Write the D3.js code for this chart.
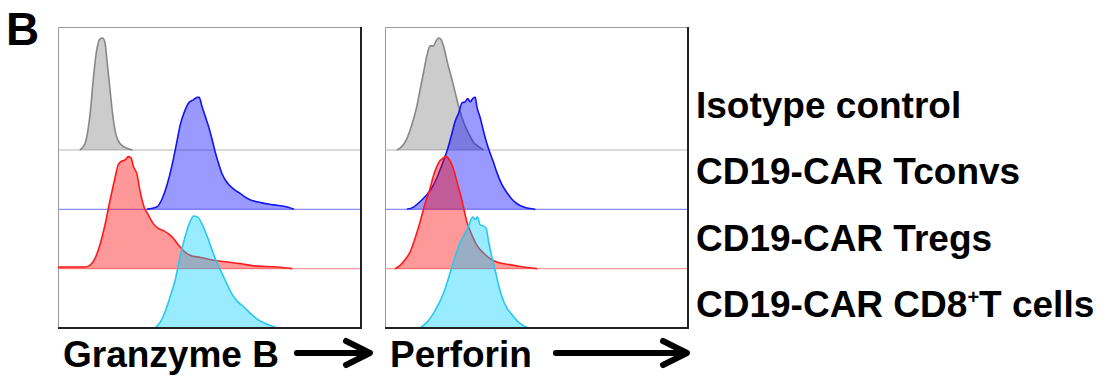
<!DOCTYPE html>
<html>
<head>
<meta charset="utf-8">
<script src="https://cdn.jsdelivr.net/npm/d3@7"></script>
<style>
  html, body { margin: 0; padding: 0; background: #fff; }
  text { font-family: "Liberation Sans", Arial, Helvetica, sans-serif; font-weight: bold; fill: #000; }
</style>
</head>
<body>
<div id="chart"></div>
<script>
// rows, top to bottom
const rowLabels = ['Isotype control', 'CD19-CAR Tconvs', 'CD19-CAR Tregs', 'CD19-CAR CD8+T cells'];
const markerLabels = ['Granzyme B', 'Perforin'];

// histograms: [position on axis (0-100), % of mode]
const gzbIsotype = [[7.2,0],[8.8,5],[9.9,18],[10.7,35],[11.6,62],[12.7,88],[13.8,99],[14.7,100],[15.5,96],[16.2,79],[17.1,56],[17.9,35],[18.8,18],[20.4,6],[22.7,1.5],[24.6,0]];
const gzbTconv = [[29.3,0],[32.6,2],[34.3,9],[35.9,21],[37.6,39],[39.2,60],[40.3,75],[42.0,89],[43.1,95],[44.8,98],[45.9,100],[46.6,100],[47.5,92],[48.6,83],[49.7,74],[50.8,63],[51.9,51],[53.0,41],[54.1,32],[55.8,24],[58.0,18],[60.2,14],[63.0,9],[66.9,6],[71.3,4],[75.7,2],[77.9,0]];
const gzbTreg = [[0,1.5],[8.8,1.5],[10.5,3],[12.2,9],[13.8,21],[15.5,39],[17.1,60],[18.8,81],[19.9,93],[21.0,96],[22.1,97],[23.2,100],[24.1,99],[24.9,91],[26.0,85],[27.1,69],[28.4,55],[29.8,48],[31.5,40],[33.1,36],[34.8,34],[36.5,31],[38.1,27],[39.8,21],[41.4,16],[43.6,12],[47.0,10],[51.4,7.5],[55.8,6],[60.2,4.5],[64.6,2.5],[72.4,1.5],[77.3,0]];
const gzbCD8 = [[32.0,0],[33.7,5],[35.4,15],[37.0,28],[38.7,43],[40.3,64],[42.0,82],[43.6,95],[44.8,100],[46.1,99],[47.5,93],[49.2,82],[50.8,70],[52.5,58],[54.1,49],[55.8,39],[57.5,30],[59.1,24],[61.3,19],[63.5,13],[65.7,8],[68.5,4],[72.4,0]];

const prfIsotype = [[3.9,0],[5.5,3],[7.2,10],[8.8,22],[10.5,39],[11.6,54],[12.7,69],[13.8,84],[14.9,93],[16.0,93],[16.8,97],[17.6,100],[18.4,99],[19.3,93],[20.6,78],[22.1,63],[23.2,51],[24.3,39],[25.9,25],[27.6,15],[29.2,7],[30.9,3],[32.5,0]];
const prfTconv = [[7.2,0],[9.4,2],[11.6,7],[13.8,13],[15.4,19],[17.1,28],[18.7,39],[19.8,47],[20.9,56],[22.1,68],[23.2,79],[24.3,86],[25.4,95],[26.5,96],[27.3,99],[28.1,96],[29.0,99],[29.8,100],[30.3,92],[31.4,82],[32.5,70],[33.6,59],[34.7,50],[35.8,42],[36.9,33],[38.6,22],[40.2,15],[41.9,9],[43.6,5],[45.8,2],[49.6,0]];
const prfTreg = [[3.3,0],[5.0,3],[6.6,8],[8.3,15],[9.9,27],[11.6,42],[13.2,58],[14.7,70],[16.0,83],[17.6,94],[19.3,99],[20.2,100],[21.3,97],[22.6,89],[23.9,76],[25.4,61],[27.0,42],[28.7,30],[30.3,21],[32.5,14],[34.7,9],[36.9,6],[40.2,4],[44.7,2],[50.2,0]];
const prfCD8 = [[11.6,0],[13.8,5],[16.0,13],[17.6,21],[19.3,31],[20.9,44],[22.6,59],[24.3,73],[25.9,82],[27.3,89],[28.1,95],[29.0,99],[29.8,97],[30.5,99],[31.4,92],[32.5,91],[33.4,89],[34.2,77],[35.3,63],[36.5,50],[37.6,37],[38.7,27],[40.2,18],[41.9,12],[44.1,5],[47.4,0]];

const panels = [
  { label: markerLabels[0], series: [gzbIsotype, gzbTconv, gzbTreg, gzbCD8], left: 58, right: 361, arrowGap: 18, arrowEnd: 370 },
  { label: markerLabels[1], series: [prfIsotype, prfTconv, prfTreg, prfCD8], left: 385, right: 688, arrowGap: 24, arrowEnd: 687 }
];

const colors = [
  { fill: '#808080', line: '#888888', base: '#b8b8b8' },
  { fill: '#0000ff', line: '#1414f0', base: '#8c8cff' },
  { fill: '#ff0000', line: '#ff1a1a', base: '#ff9a9a' },
  { fill: '#00ccff', line: '#28c8f0', base: '#28c8f0' }
];

const width = 1106, height = 378;
const frameTop = 27, frameBottom = 328, peakH = 112;

const svg = d3.select('#chart').append('svg')
  .attr('width', width)
  .attr('height', height);

// baseline of each row
const rowY = d3.scalePoint().domain(rowLabels).range([150, frameBottom]);

panels.forEach(p => {
  const x = d3.scaleLinear().domain([0, 100]).range([p.left, p.right]);
  const g = svg.append('g');

  // frame: light top/left, darker right/bottom
  g.append('path')
    .attr('d', `M${p.left + 0.5},${frameBottom}V${frameTop + 0.5}H${p.right}`)
    .attr('fill', 'none').attr('stroke', '#999').attr('stroke-width', 1);

  p.series.forEach((data, i) => {
    const base = rowY(rowLabels[i]);
    const y = d3.scaleLinear().domain([0, 100]).range([base, base - peakH]);

    // baseline across the whole panel
    g.append('line')
      .attr('x1', p.left).attr('x2', p.right)
      .attr('y1', base).attr('y2', base)
      .attr('stroke', colors[i].base).attr('stroke-width', 1.2);

    const area = d3.area()
      .x(d => x(d[0])).y0(base).y1(d => y(d[1]))
      .curve(d3.curveMonotoneX);
    const line = d3.line()
      .x(d => x(d[0])).y(d => y(d[1]))
      .curve(d3.curveMonotoneX);

    g.append('path').datum(data)
      .attr('d', area)
      .attr('fill', colors[i].fill).attr('fill-opacity', 0.4);
    g.append('path').datum(data)
      .attr('d', line)
      .attr('fill', 'none')
      .attr('stroke', colors[i].line).attr('stroke-width', 1.6);
  });

  g.append('path')
    .attr('d', `M${p.right},${frameTop}V${frameBottom}H${p.left}`)
    .attr('fill', 'none').attr('stroke', '#222').attr('stroke-width', 2);

  // marker label + arrow
  const t = svg.append('text')
    .attr('x', p.left + 5).attr('y', 367)
    .attr('font-size', 37)
    .text(p.label);
  const tw = t.node().getComputedTextLength();
  const start = p.left + 5 + tw + p.arrowGap;
  svg.append('path')
    .attr('d', `M${start},353H${p.arrowEnd - 2}M${p.arrowEnd - 24},341L${p.arrowEnd},353L${p.arrowEnd - 24},365`)
    .attr('fill', 'none').attr('stroke', '#000')
    .attr('stroke-width', 6).attr('stroke-linecap', 'round').attr('stroke-linejoin', 'round');
});

// panel letter
svg.append('text').attr('x', 6).attr('y', 45).attr('font-size', 46).text('B');

// row legend
const labelY = d3.scalePoint().domain(rowLabels).range([118, 317]);
rowLabels.forEach(l => {
  const t = svg.append('text')
    .attr('x', 696).attr('y', labelY(l))
    .attr('font-size', 37);
  if (l.includes('+')) {
    const [a, b] = l.split('+');
    t.append('tspan').text(a);
    t.append('tspan').attr('font-size', 20).attr('dy', -13).text('+');
    t.append('tspan').attr('dy', 13).text(b);
  } else {
    t.text(l);
  }
});
</script>
</body>
</html>
